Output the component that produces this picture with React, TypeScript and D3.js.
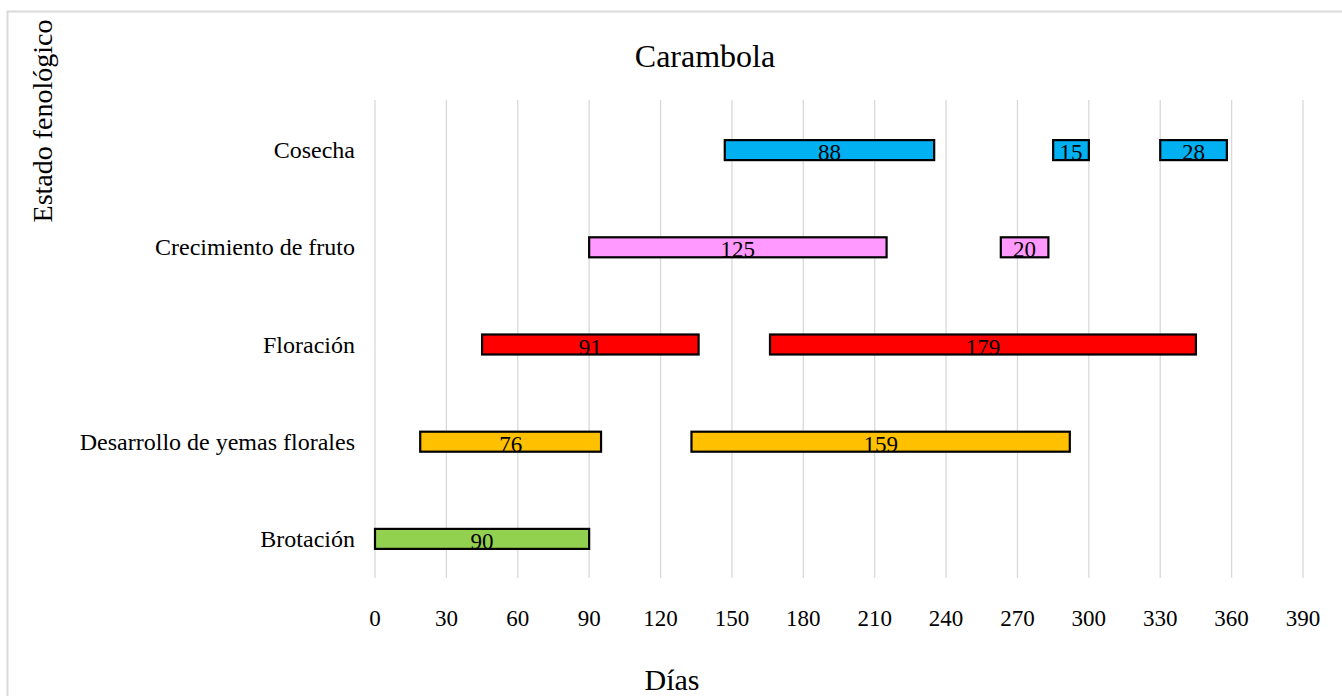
import React from "react";
import * as d3 from "d3";

const categories = ["Cosecha", "Crecimiento de fruto", "Floración", "Desarrollo de yemas florales", "Brotación"];
const colors = ["#00b0f0", "#ff99ff", "#ff0000", "#ffc000", "#92d050"];
// segments: [category index, start day, duration]
const segCategory = [4, 3, 3, 2, 2, 1, 1, 0, 0, 0];
const segStart = [0, 19, 133, 45, 166, 90, 263, 147, 285, 330];
const segDuration = [90, 76, 159, 91, 179, 125, 20, 88, 15, 28];
const xTicks = [0, 30, 60, 90, 120, 150, 180, 210, 240, 270, 300, 330, 360, 390];

const W = 1342;
const H = 696;
const FONT = "'Liberation Serif', 'Times New Roman', serif";

export default function App() {
  const x = d3.scaleLinear().domain([0, 390]).range([375, 1303]);
  const y = d3.scaleBand<string>().domain(categories).range([101.5, 587.5]);
  const barH = 20;
  return (
    <svg width={W} height={H} style={{ position: "absolute", left: 0, top: 0 }} fontFamily={FONT}>
      <rect x={0} y={0} width={W} height={H} fill="#fff" />
      <rect x={7.5} y={11.5} width={W + 10} height={H + 10} fill="none" stroke="#d9d9d9" strokeWidth={2} />
      <text x={705} y={67} fontSize={32} textAnchor="middle" fill="#000">Carambola</text>
      {xTicks.map((t) => (
        <g key={t}>
          <line x1={x(t)} x2={x(t)} y1={100} y2={578} stroke="#d9d9d9" strokeWidth={1.3} />
          <text x={x(t)} y={626} fontSize={23} textAnchor="middle" fill="#000">{t}</text>
        </g>
      ))}
      {categories.map((c) => (
        <text key={c} x={355} y={(y(c) ?? 0) + y.bandwidth() / 2 + 8} fontSize={24} textAnchor="end" fill="#000">{c}</text>
      ))}
      {segStart.map((s, i) => {
        const c = categories[segCategory[i]];
        const cy = (y(c) ?? 0) + y.bandwidth() / 2;
        const x0 = x(s);
        const x1 = x(s + segDuration[i]);
        return (
          <g key={i}>
            <rect x={x0} y={cy - barH / 2} width={x1 - x0} height={barH} fill={colors[segCategory[i]]} stroke="#000" strokeWidth={2.2} />
            <text x={(x0 + x1) / 2} y={cy + 10} fontSize={23} textAnchor="middle" fill="#000">{segDuration[i]}</text>
          </g>
        );
      })}
      <text x={672} y={690} fontSize={30} textAnchor="middle" fill="#000">Días</text>
      <text transform="translate(52,121) rotate(-90)" fontSize={28} textAnchor="middle" fill="#000">Estado fenológico</text>
    </svg>
  );
}
